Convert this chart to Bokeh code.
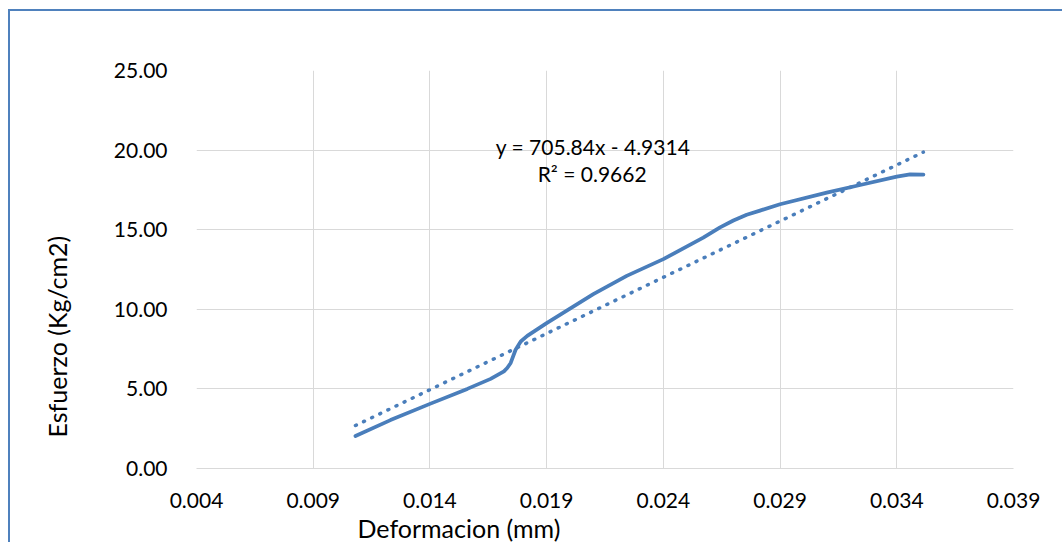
from bokeh.plotting import figure
from bokeh.models import Range1d, FixedTicker, PrintfTickFormatter, Label, InlineStyleSheet, Title
from bokeh.embed import file_html
from bokeh.resources import INLINE

# ---- data ----
deformacion = [0.01081, 0.01231, 0.0140, 0.0156, 0.0166, 0.01717, 0.01731, 0.01746, 0.01767,
               0.01789, 0.01817, 0.0190, 0.0210, 0.02243, 0.0240, 0.02571, 0.02643, 0.0270,
               0.02757, 0.02814, 0.0290, 0.0310, 0.03243, 0.0340, 0.03457, 0.03514]
esfuerzo = [2.04, 3.04, 4.06, 5.00, 5.63, 6.10, 6.31, 6.63, 7.46,
            7.98, 8.33, 9.13, 10.95, 12.10, 13.15, 14.50, 15.15, 15.58,
            15.94, 16.20, 16.60, 17.33, 17.81, 18.33, 18.48, 18.46]
slope = 705.84
intercept = -4.9314
r2 = 0.9662
x_ticks = [0.004, 0.009, 0.014, 0.019, 0.024, 0.029, 0.034, 0.039]
y_ticks = [0, 5, 10, 15, 20, 25]
x_title = "Deformacion (mm)"
y_title = "Esfuerzo (Kg/cm2)"

FONT = "Lato"
BLUE = "#4A7EBB"
GRID = "#D9D9D9"

p = figure(width=1062, height=542, output_backend="svg", toolbar_location=None,
           x_range=Range1d(0.004, 0.039), y_range=Range1d(0, 25),
           min_border_left=196, min_border_right=49, min_border_top=70, min_border_bottom=73)
p.outline_line_color = None
p.background_fill_color = "white"
p.border_fill_color = "white"

# grid
p.xgrid.ticker = FixedTicker(ticks=x_ticks)
p.ygrid.ticker = FixedTicker(ticks=y_ticks)
p.xgrid.grid_line_color = GRID
p.ygrid.grid_line_color = GRID
p.xgrid.grid_line_width = 1
p.ygrid.grid_line_width = 1

# axes
p.xaxis.ticker = FixedTicker(ticks=x_ticks)
p.yaxis.ticker = FixedTicker(ticks=y_ticks)
p.xaxis.formatter = PrintfTickFormatter(format="%.3f")
p.yaxis.formatter = PrintfTickFormatter(format="%.2f")
for ax in (p.xaxis, p.yaxis):
    ax.major_tick_line_color = None
    ax.minor_tick_line_color = None
    ax.major_label_text_font = FONT
    ax.major_label_text_font_size = "21px"
    ax.major_label_text_color = "#000000"
p.xaxis.axis_line_color = GRID
p.yaxis.axis_line_color = None
p.xaxis.major_label_standoff = 18
p.yaxis.major_label_standoff = 23

# axis titles as side-panel titles (offset from the frame edge like the original)
xt = Title(text=x_title, align="left", offset=161, standoff=0,
           text_font=FONT, text_font_size="25px", text_font_style="normal", text_color="#000000")
yt = Title(text=y_title, align="left", offset=31, standoff=77,
           text_font=FONT, text_font_size="25px", text_font_style="normal", text_color="#000000")
p.add_layout(xt, "below")
p.add_layout(yt, "left")

# data line
p.line(deformacion, esfuerzo, line_color=BLUE, line_width=3.75, line_join="round", line_cap="round")

# linear trendline across data range
tx = [min(deformacion), max(deformacion)]
ty = [slope * v + intercept for v in tx]
p.line(tx, ty, line_color=BLUE, line_width=3.5, line_dash="1 8", line_cap="round")

eq = Label(x=0.02099, y=20.24, text=f"y = {slope}x - {abs(intercept)}", text_align="center",
           text_baseline="middle", text_font=FONT, text_font_size="21px", text_color="#000000")
rr = Label(x=0.02095, y=18.55, text=f"R² = {r2}", text_align="center",
           text_baseline="middle", text_font=FONT, text_font_size="21px", text_color="#000000")
p.add_layout(eq)
p.add_layout(rr)

# chart-area border (drawn by CSS over the canvas)
p.stylesheets = [InlineStyleSheet(css=(
    ":host { position: relative; overflow: hidden; }"
    ":host::after { content: ''; position: absolute; left: 8px; top: 9px; width: 1080px; height: 600px;"
    " border: 2px solid #4F81BD; box-sizing: border-box; pointer-events: none; z-index: 100; }"
))]

open("out.html", "w").write(file_html(p, INLINE))
